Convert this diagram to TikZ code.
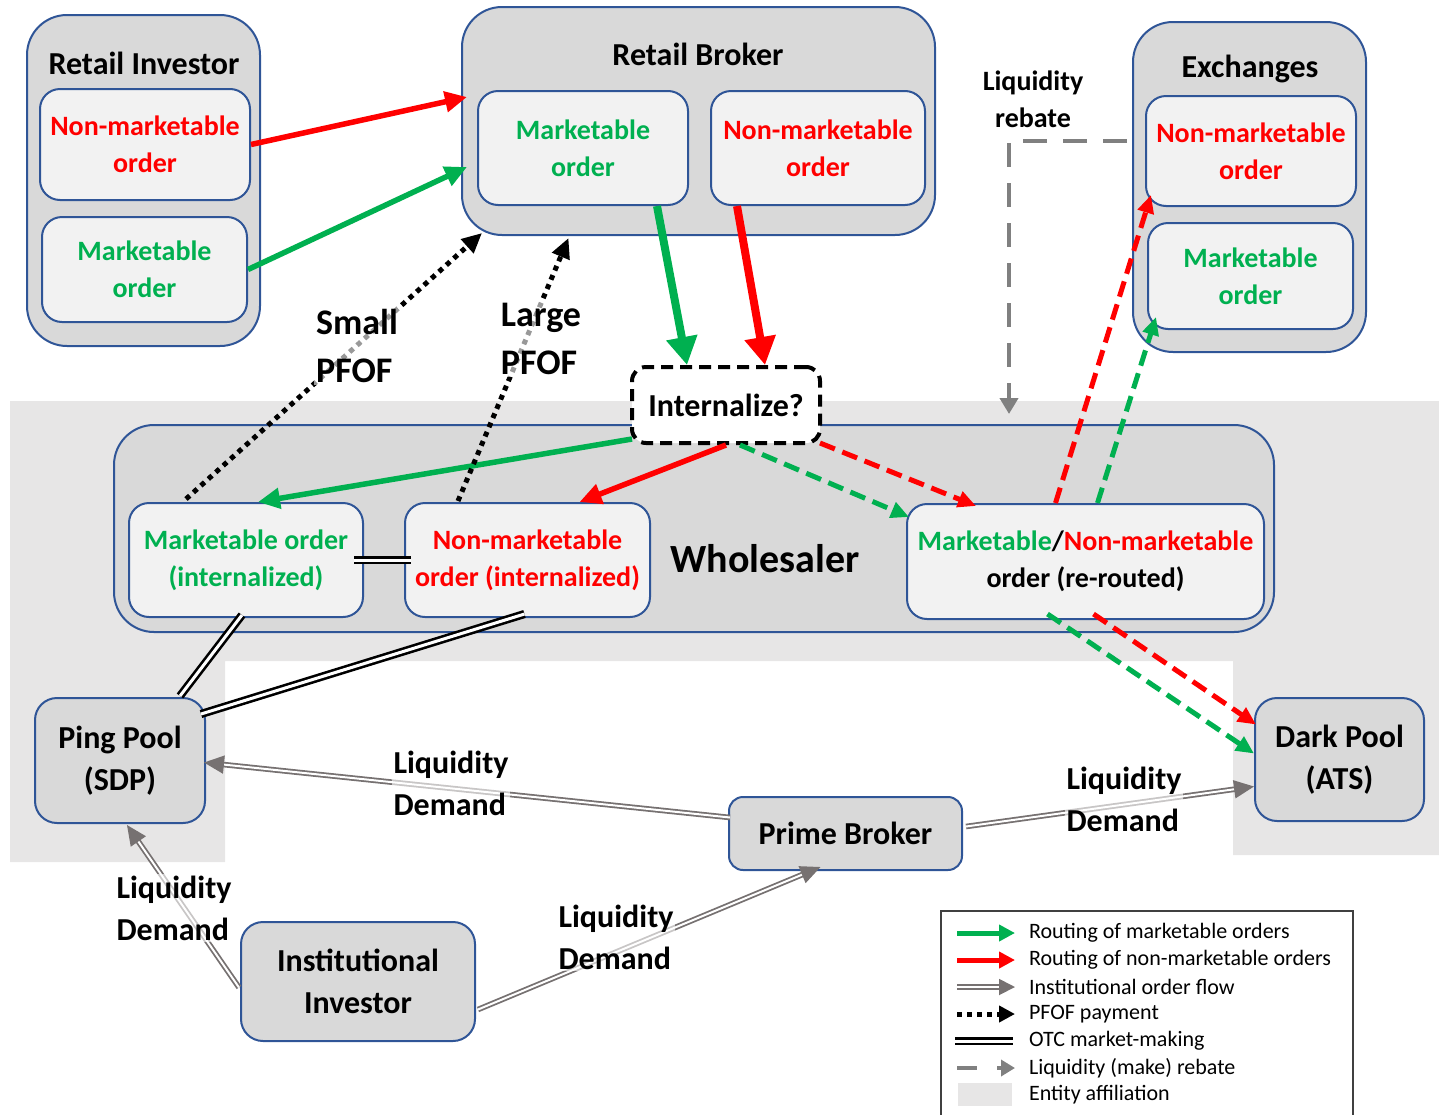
\documentclass[tikz,border=0pt]{standalone}
\usepackage{fontspec}
\setmainfont{Carlito}
\usetikzlibrary{arrows.meta,calc}
\definecolor{boxblue}{HTML}{2F5597}
\definecolor{outerfill}{HTML}{D9D9D9}
\definecolor{innerfill}{HTML}{F2F2F2}
\definecolor{affilfill}{HTML}{E7E6E6}
\definecolor{mkgreen}{HTML}{00B050}
\definecolor{nmred}{HTML}{FF0000}
\definecolor{flowgray}{HTML}{767171}
\definecolor{rebategray}{HTML}{808080}
\newcommand{\bigfont}{\fontsize{16}{21}\selectfont\bfseries}
\newcommand{\ordfont}{\fontsize{14}{18.5}\selectfont\bfseries}
\newcommand{\lblfont}{\fontsize{16}{21}\selectfont\bfseries}
\newcommand{\keyfont}{\fontsize{11}{13}\selectfont}
\tikzset{
	outerbox/.style={draw=boxblue, line width=1pt, fill=outerfill, rounded corners=20pt, inner sep=0pt},
	orderbox/.style={draw=boxblue, line width=1pt, fill=innerfill, rounded corners=10pt, inner sep=0pt, align=center, font=\ordfont},
	entitybox/.style={draw=boxblue, line width=1pt, fill=outerfill, rounded corners=11pt, inner sep=0pt, align=center, font=\bigfont},
	boxtitle/.style={font=\bigfont, inner sep=0pt},
	decision/.style={draw=black, line width=2pt, dash pattern=on 6pt off 3.5pt, fill=white, rounded corners=7pt, font=\bigfont, minimum width=94pt, minimum height=38pt},
	flowlabel/.style={font=\lblfont, align=left, fill=white, fill opacity=0.6, text opacity=1, inner sep=1pt},
	pfoflabel/.style={flowlabel, font=\fontsize{18}{24}\selectfont\bfseries},
	route/.style={line width=2.75pt, -{Triangle[length=11pt,width=10pt]}},
	bigroute/.style={line width=4pt, -{Triangle[length=14pt,width=15pt]}},
	reroute/.style={line width=2.5pt, dash pattern=on 8pt off 4pt, -{Triangle[length=9pt,width=8pt]}},
	pfof/.style={black, line width=2.5pt, dash pattern=on 2.5pt off 2.5pt, -{Triangle[length=10pt,width=9pt]}},
	otc/.style={black, line width=1.3pt, double=white, double distance=1.5pt},
	instflow/.style={flowgray, line width=0.9pt, double=white, double distance=1pt, -{Triangle[length=10pt,width=9pt]}},
	rebate/.style={rebategray, line width=2pt, dash pattern=on 12pt off 8pt, -{Triangle[length=8pt,width=9pt]}}
}
\begin{document}
\begin{tikzpicture}[x=0.5pt, y=-0.5pt]
	\useasboundingbox (0,0) rectangle (1439,1114);
	\fill[affilfill] (10,401) -- (1439,401) -- (1439,855) -- (1233,855) -- (1233,661) -- (225,661) -- (225,862) -- (10,862) -- cycle;
	\node[outerbox, minimum width=116.5pt, minimum height=165.5pt] (ri) at (143.5,180.5) {};
	\node[boxtitle] (rititle) at (144,63) {Retail Investor};
	\node[orderbox, text=nmred, minimum width=105pt, minimum height=55.5pt] (rinm) at (145,144.5) {Non-marketable\\order};
	\node[orderbox, text=mkgreen, minimum width=102.5pt, minimum height=52.5pt] (rimk) at (144.5,269.5) {Marketable\\order};
	\node[outerbox, minimum width=236.5pt, minimum height=114pt] (rb) at (698.5,121) {};
	\node[boxtitle] (rbtitle) at (698,54) {Retail Broker};
	\node[orderbox, text=mkgreen, minimum width=105pt, minimum height=57pt] (rbmk) at (583,148) {Marketable\\order};
	\node[orderbox, text=nmred, minimum width=107pt, minimum height=57pt] (rbnm) at (818,148) {Non-marketable\\order};
	\node[outerbox, minimum width=116.5pt, minimum height=165pt] (ex) at (1249.5,187) {};
	\node[boxtitle] (extitle) at (1250,69) {Exchanges};
	\node[orderbox, text=nmred, minimum width=105pt, minimum height=55pt] (exnm) at (1251,151) {Non-marketable\\order};
	\node[orderbox, text=mkgreen, minimum width=102.5pt, minimum height=53pt] (exmk) at (1250.5,276) {Marketable\\order};
	\node[font=\fontsize{14}{18.5}\selectfont\bfseries, align=center] (rebtxt) at (1033,99) {Liquidity\\rebate};
	\node[outerbox, minimum width=580pt, minimum height=103.5pt] (ws) at (694,528.5) {};
	\node[font=\fontsize{20}{24}\selectfont\bfseries] (wstitle) at (765,559) {Wholesaler};
	\node[orderbox, text=mkgreen, minimum width=117pt, minimum height=57pt] (wsmk) at (246,560) {Marketable order\\(internalized)};
	\node[orderbox, text=nmred, minimum width=122.5pt, minimum height=57pt] (wsnm) at (527.5,560) {Non-marketable\\order (internalized)};
	\node[orderbox, minimum width=178.5pt, minimum height=57.5pt] (wsrr) at (1085.5,561.5) {{\color{mkgreen}Marketable}/{\color{nmred}Non-marketable}\\order (re-routed)};
	\node[decision] (intl) at (726,405) {Internalize?};
	\node[entitybox, minimum width=85pt, minimum height=62.5pt] (pp) at (120,760.5) {Ping Pool\\(SDP)};
	\node[entitybox, minimum width=84.5pt, minimum height=61.5pt] (dp) at (1339.5,759.5) {Dark Pool\\(ATS)};
	\node[entitybox, rounded corners=7pt, minimum width=116.5pt, minimum height=36.5pt] (pb) at (845.5,833.5) {Prime Broker};
	\node[entitybox, minimum width=117pt, minimum height=59.5pt] (ii) at (358,981.5) {Institutional\\Investor};
	\draw[route, nmred] (rinm.east) -- ($(rb.west)+(6,-24)$);
	\draw[route, mkgreen] (rimk.east) -- ($(rb.west)+(6,46)$);
	\draw[bigroute, mkgreen] ($(rbmk.south)+(74,0)$) -- ($(intl.north)+(-39,0)$);
	\draw[bigroute, nmred] ($(rbnm.south)+(-81,0)$) -- ($(intl.north)+(39,0)$);
	\draw[route, mkgreen] ($(intl.south west)+(2,-6)$) -- ($(wsmk.north)+(12,0)$);
	\draw[route, nmred] (intl.south) -- ($(wsnm.north)+(52,0)$);
	\draw[reroute, mkgreen] ($(intl.south)+(14,0)$) -- ($(wsrr.north west)+(3,14)$);
	\draw[reroute, nmred] ($(intl.south east)+(-2,-2)$) -- ($(wsrr.north west)+(70,3)$);
	\draw[reroute, nmred] ($(wsrr.north)+(-30,0)$) -- ($(exnm.south west)+(6,-12)$);
	\draw[reroute, mkgreen] ($(wsrr.north)+(12,0)$) -- ($(exmk.south west)+(9,-13)$);
	\draw[reroute, mkgreen] ($(wsrr.south)+(-38,-6)$) -- ($(dp.west)+(0,-6)$);
	\draw[reroute, nmred] ($(wsrr.south)+(8,-6)$) -- ($(dp.west)+(2,-35)$);
	\draw[rebate] ($(ex.west)+(-5,-46)$) -| ($(ws.north)+(315,-10)$);
	\draw[pfof] ($(wsmk.north)+(-60,-3)$) -- ($(rb.south west)+(21,-3)$);
	\draw[pfof] ($(wsnm.north)+(-69.5,-1)$) -- ($(rb.south)+(-130,2)$);
	\draw[otc] ($(wsmk.east)+(-10,0)$) -- ($(wsnm.west)+(7,0)$);
	\draw[otc] ($(wsmk.south)+(-4,-3)$) -- ($(pp.north)+(60,-1)$);
	\draw[otc] ($(wsnm.south)+(-3,-4)$) -- ($(pp.north east)+(-5,17)$);
	\draw[instflow] ($(pb.west)+(2,-16)$) -- ($(pp.east)+(-2,2)$);
	\draw[instflow] ($(pb.east)+(3,-7)$) -- ($(dp.west)+(0,27)$);
	\draw[instflow] ($(ii.west)+(-1,6)$) -- ($(pp.south)+(7,1)$);
	\draw[instflow] ($(ii.east)+(2,28)$) -- ($(pb.south)+(-25,-4)$);
	\node[pfoflabel] (smallpfof) at (357,346) {Small\\PFOF};
	\node[pfoflabel] (largepfof) at (541,339) {Large\\PFOF};
	\node[flowlabel] (ldpp) at (451,783) {Liquidity\\Demand};
	\node[flowlabel] (lddp) at (1124,799) {Liquidity\\Demand};
	\node[flowlabel] (ldii) at (174,908) {Liquidity\\Demand};
	\node[flowlabel] (ldpb) at (616,937) {Liquidity\\Demand};
	\node[draw=black!75, line width=0.6pt, minimum width=206pt, minimum height=107pt] (legend) at (1147,1018) {};
	\node[font=\keyfont, anchor=west] (keymk) at (1022,933) {Routing of marketable orders};
	\node[font=\keyfont, anchor=west] (keynm) at (1022,960) {Routing of non-marketable orders};
	\node[font=\keyfont, anchor=west] (keyinst) at (1022,987) {Institutional order flow};
	\node[font=\keyfont, anchor=west] (keypfof) at (1022,1014) {PFOF payment};
	\node[font=\keyfont, anchor=west] (keyotc) at (1022,1041) {OTC market-making};
	\node[font=\keyfont, anchor=west] (keyreb) at (1022,1068) {Liquidity (make) rebate};
	\node[font=\keyfont, anchor=west] (keyaff) at (1022,1095) {Entity affiliation};
	\draw[mkgreen, line width=2.5pt, -{Triangle[length=8pt,width=8pt]}] ($(keymk.west)+(-65,0)$) -- ($(keymk.west)+(-7,0)$);
	\draw[nmred, line width=2.5pt, -{Triangle[length=8pt,width=8pt]}] ($(keynm.west)+(-65,0)$) -- ($(keynm.west)+(-7,0)$);
	\draw[instflow, -{Triangle[length=8pt,width=8pt]}] ($(keyinst.west)+(-65,0)$) -- ($(keyinst.west)+(-7,0)$);
	\draw[pfof, -{Triangle[length=8pt,width=8pt]}] ($(keypfof.west)+(-65,0)$) -- ($(keypfof.west)+(-7,0)$);
	\draw[otc] ($(keyotc.west)+(-67,0)$) -- ($(keyotc.west)+(-9,0)$);
	\draw[rebate, dash pattern=on 10pt off 10pt, -{Triangle[length=7pt,width=8pt]}] ($(keyreb.west)+(-65,0)$) -- ($(keyreb.west)+(-7,0)$);
	\fill[affilfill] ($(keyaff.west)+(-64,-12)$) rectangle ($(keyaff.west)+(-10,11)$);
\end{tikzpicture}
\end{document}
